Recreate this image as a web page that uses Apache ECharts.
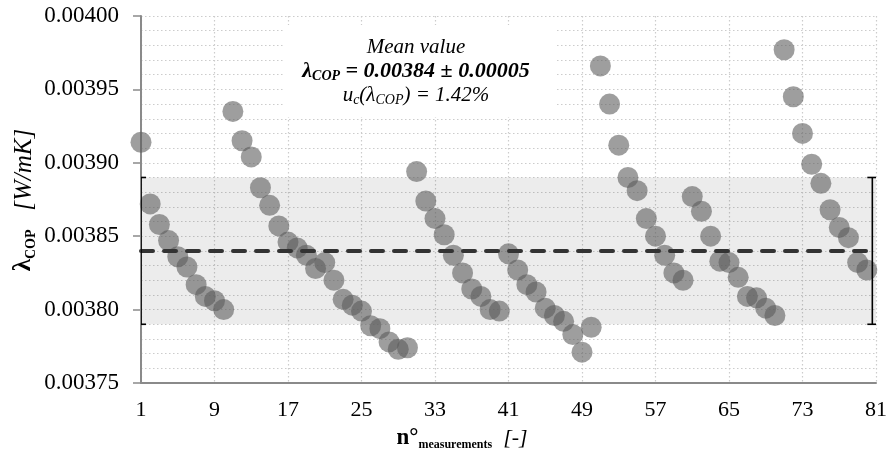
<!DOCTYPE html>
<html><head><meta charset="utf-8">
<script src="https://cdn.jsdelivr.net/npm/echarts@6/dist/echarts.min.js"></script>
<style>html,body{margin:0;padding:0;background:#fff}#c{width:890px;height:456px}</style>
</head><body><div id="c"></div>
<script>
// lambda_COP values [W/mK] for measurements 1..80
const lambdaCOP = [
  0.003914, 0.003872, 0.003858, 0.003847, 0.003836, 0.003829, 0.003817, 0.003809, 0.003806, 0.003800,
  0.003935, 0.003915, 0.003904, 0.003883, 0.003871, 0.003857, 0.003846, 0.003842, 0.003837, 0.003828,
  0.003832, 0.003820, 0.003807, 0.003803, 0.003799, 0.003789, 0.003787, 0.003778, 0.003773, 0.003774,
  0.003894, 0.003874, 0.003862, 0.003851, 0.003837, 0.003825, 0.003814, 0.003809, 0.003800, 0.003799,
  0.003838, 0.003827, 0.003817, 0.003812, 0.003801, 0.003796, 0.003792, 0.003783, 0.003771, 0.003788,
  0.003966, 0.003940, 0.003912, 0.003890, 0.003881, 0.003862, 0.003850, 0.003837, 0.003825, 0.003820,
  0.003877, 0.003867, 0.003850, 0.003833, 0.003832, 0.003822, 0.003809, 0.003808, 0.003801, 0.003796,
  0.003977, 0.003945, 0.003920, 0.003899, 0.003886, 0.003868, 0.003856, 0.003849, 0.003832, 0.003827
];
const measurementNo = lambdaCOP.map((_, i) => i + 1);
const xTickLabels = ['1', '9', '17', '25', '33', '41', '49', '57', '65', '73', '81'];
const yTickLabels = ['0.00375', '0.00380', '0.00385', '0.00390', '0.00395', '0.00400'];
const meanValue = 0.00384;
const expandedUnc = 0.00005;
const meanLineX = [1, 80.6];
const errorBarX = [1, 80.6];

const FONT = 'Liberation Serif';
const GRID = {color: '#cccccc', width: 1.2, type: [1.5, 2.5]};
const chart = echarts.init(document.getElementById('c'), null, {renderer: 'canvas'});

const option = {
  animation: false,
  backgroundColor: '#fff',
  grid: {left: 141, right: 13, top: 16, bottom: 73, containLabel: false},
  xAxis: {
    type: 'value', min: 1, max: 81, interval: 8,
    axisLine: {show: true, onZero: false, lineStyle: {color: '#8a8a8a', width: 2}},
    axisTick: {show: false},
    axisLabel: {
      margin: 16, color: '#000', fontFamily: FONT, fontSize: 22,
      formatter: v => xTickLabels.includes(String(Math.round(v))) ? String(Math.round(v)) : ''
    },
    splitLine: {show: true, lineStyle: GRID}
  },
  yAxis: {
    type: 'value', min: 0.00375, max: 0.004, interval: 0.00005,
    axisLine: {show: true, onZero: false, lineStyle: {color: '#8a8a8a', width: 2}},
    axisTick: {show: true, length: 8, lineStyle: {color: '#8a8a8a', width: 1.5}},
    axisLabel: {
      margin: 22, color: '#000', fontFamily: FONT, fontSize: 23,
      formatter: v => {
        const l = yTickLabels.find(t => Math.abs(parseFloat(t) - v) < 1e-9);
        return l || '';
      }
    },
    splitLine: {show: true, lineStyle: GRID},
    minorTick: {show: false, splitNumber: 5},
    minorSplitLine: {show: true, lineStyle: GRID}
  },
  series: [
    {
      type: 'scatter',
      name: 'lambda',
      data: measurementNo.map((n, i) => [n, lambdaCOP[i]]),
      symbol: 'circle', symbolSize: 21,
      itemStyle: {color: 'rgba(92,92,92,0.74)', borderWidth: 0},
      z: 3,
      markArea: {
        silent: true,
        itemStyle: {color: 'rgba(0,0,0,0.075)'},
        data: [[{yAxis: meanValue - expandedUnc}, {yAxis: meanValue + expandedUnc}]]
      }
    },
    {
      type: 'line',
      name: 'mean',
      data: meanLineX.map(x => [x, meanValue]),
      symbol: 'none',
      lineStyle: {color: '#333', width: 4, type: [12, 11], cap: 'round'},
      z: 5
    },
    {
      type: 'custom',
      name: 'errorbar',
      clip: true,
      z: 6,
      data: errorBarX.map(x => [x, meanValue - expandedUnc, meanValue + expandedUnc]),
      encode: {x: 0, y: [1, 2]},
      renderItem: (params, api) => {
        const x = api.value(0);
        const pLo = api.coord([x, api.value(1)]);
        const pHi = api.coord([x, api.value(2)]);
        const w = 5;
        const st = {stroke: '#000', lineWidth: 1.6};
        return {type: 'group', children: [
          {type: 'line', shape: {x1: pLo[0], y1: pLo[1], x2: pHi[0], y2: pHi[1]}, style: st},
          {type: 'line', shape: {x1: pLo[0] - w, y1: pLo[1], x2: pLo[0] + w, y2: pLo[1]}, style: st},
          {type: 'line', shape: {x1: pHi[0] - w, y1: pHi[1], x2: pHi[0] + w, y2: pHi[1]}, style: st}
        ]};
      }
    }
  ],
  graphic: [
    {type: 'rect', z: 50, shape: {x: 283, y: 25, width: 274, height: 92}, style: {fill: '#fff'}},
    {
      type: 'text', z: 51, x: 416, y: 47,
      style: {
        text: 'Mean value', fontFamily: FONT, fontSize: 21, fontStyle: 'italic', fill: '#000',
        align: 'center', verticalAlign: 'middle', textAlign: 'center', textVerticalAlign: 'middle'
      }
    },
    {
      type: 'text', z: 51, x: 416, y: 71,
      style: {
        text: '{m|λ}{s|COP}{m| = 0.00384 ± 0.00005}',
        fill: '#000', align: 'center', verticalAlign: 'middle', textAlign: 'center', textVerticalAlign: 'middle',
        rich: {
          m: {fontFamily: FONT, fontSize: 22, fontStyle: 'italic', fontWeight: 'bold', lineHeight: 24, fill: '#000'},
          s: {fontFamily: FONT, fontSize: 14, fontStyle: 'italic', fontWeight: 'bold', verticalAlign: 'bottom', height: 14, fill: '#000'}
        }
      }
    },
    {
      type: 'text', z: 51, x: 416, y: 95,
      style: {
        text: '{m|u}{s|c}{m|(λ}{s|COP}{m|) = 1.42%}',
        fill: '#000', align: 'center', verticalAlign: 'middle', textAlign: 'center', textVerticalAlign: 'middle',
        rich: {
          m: {fontFamily: FONT, fontSize: 21, fontStyle: 'italic', lineHeight: 24, fill: '#000'},
          s: {fontFamily: FONT, fontSize: 14, fontStyle: 'italic', verticalAlign: 'bottom', height: 14, fill: '#000'}
        }
      }
    },
    {
      type: 'text', z: 51, x: 462, y: 438,
      style: {
        text: '{b|n°}{s|measurements}{i|  [-]}',
        fill: '#000', align: 'center', verticalAlign: 'middle', textAlign: 'center', textVerticalAlign: 'middle',
        rich: {
          b: {fontFamily: FONT, fontSize: 23, fontWeight: 'bold', lineHeight: 26, fill: '#000'},
          s: {fontFamily: FONT, fontSize: 12, fontWeight: 'bold', verticalAlign: 'bottom', height: 12, fill: '#000'},
          i: {fontFamily: FONT, fontSize: 22, fontStyle: 'italic', lineHeight: 26, fill: '#000'}
        }
      }
    },
    {
      type: 'text', z: 51, x: 24, y: 200, rotation: Math.PI / 2,
      style: {
        text: '{b|λ}{s|COP}{i|   [W/mK]}',
        fill: '#000', align: 'center', verticalAlign: 'middle', textAlign: 'center', textVerticalAlign: 'middle',
        rich: {
          b: {fontFamily: FONT, fontSize: 25, fontWeight: 'bold', lineHeight: 28, fill: '#000'},
          s: {fontFamily: FONT, fontSize: 14, fontWeight: 'bold', verticalAlign: 'bottom', height: 14, fill: '#000'},
          i: {fontFamily: FONT, fontSize: 25, fontStyle: 'italic', lineHeight: 28, fill: '#000'}
        }
      }
    }
  ]
};
chart.setOption(option);
</script>
</body></html>
